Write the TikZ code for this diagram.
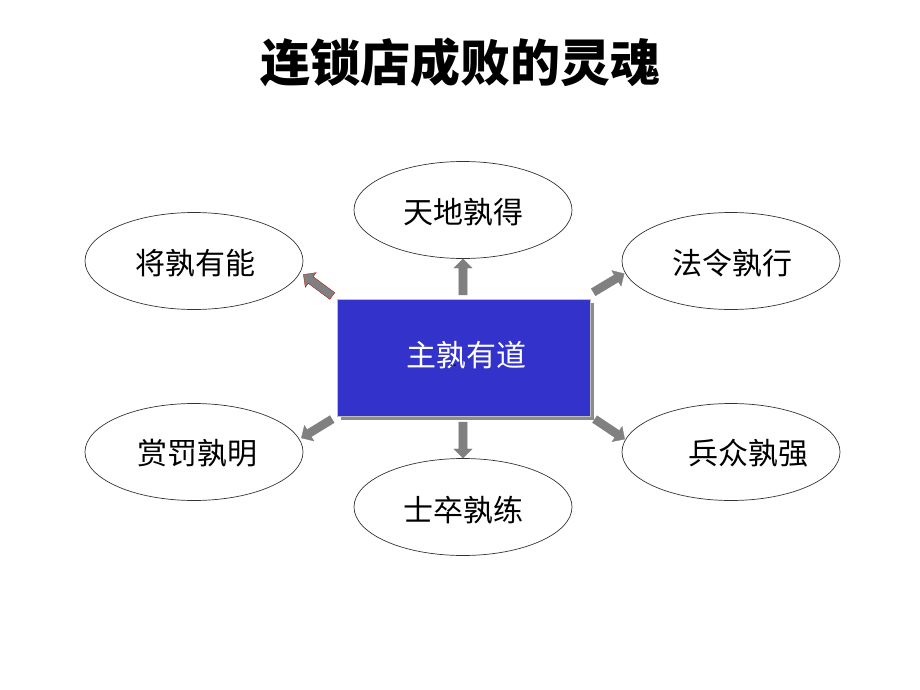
\documentclass[tikz,border=0pt]{standalone}
\usepackage{fontspec}
\newfontfamily\cjk{Noto Sans CJK SC}
\usetikzlibrary{shapes.arrows,shapes.geometric,shadows}
\definecolor{boxblue}{HTML}{3333CC}
\definecolor{arrgray}{HTML}{808080}
\tikzset{
  oval/.style={ellipse, draw=black!80, line width=0.7pt, minimum width=218pt, minimum height=97pt, inner sep=0pt},
  ovaltext/.style={font=\cjk\fontsize{30}{34}\selectfont, text=black, inner sep=0pt},
  blockarrow/.style={single arrow, fill=arrgray, draw=arrgray, line width=0.3pt, inner sep=0pt, inner ysep=4pt,
    single arrow head extend=5pt, minimum height=36pt, text width=0pt}
}
\begin{document}
\begin{tikzpicture}[x=1pt,y=1pt]
\useasboundingbox (0,0) rectangle (920,-690);
% title
\node (title) at (460,-62) {\cjk\bfseries\fontsize{50}{56}\selectfont 连锁店成败的灵魂};
% ellipses
\node[oval] (e1) at (194,-261) {};
\node[oval] (e2) at (463,-210) {};
\node[oval] (e3) at (731,-261) {};
\node[oval] (e4) at (194,-452) {};
\node[oval] (e5) at (463,-507) {};
\node[oval] (e6) at (731,-452) {};
\node[ovaltext] (t1) at (195,-263) {将孰有能};
\node[ovaltext] (t2) at (463,-212) {天地孰得};
\node[ovaltext] (t3) at (732,-263) {法令孰行};
\node[ovaltext] (t4) at (197,-453) {赏罚孰明};
\node[ovaltext] (t5) at (463,-510) {士卒孰练};
\node[ovaltext] (t6) at (748,-453) {兵众孰强};
% central box
\node[draw=black!25, line width=0.5pt, fill=boxblue, minimum width=253pt, minimum height=117pt, inner sep=0pt,
  drop shadow={shadow xshift=4pt, shadow yshift=-4pt, fill=black!45, opacity=1}] (c) at (463.5,-357.5) {};
\node[font=\cjk\fontsize{30}{34}\selectfont, text=white, inner sep=0pt] (ct) at (466,-355) {主孰有道};
\node[font=\bfseries\fontsize{12}{12}\selectfont, text=black, inner sep=0pt] (dots) at (453,-366) {..};
% arrows
\node[blockarrow, rotate=90] (a2) at (463,-279) {};
\node[blockarrow, rotate=270] (a5) at (463,-438) {};
\node[blockarrow, rotate=143.4, draw=red!70!black] (a1) at (319.5,-286.5) {};
\node[blockarrow, rotate=31] (a3) at (607,-284) {};
\node[blockarrow, rotate=211.5] (a4) at (318.5,-427.5) {};
\node[blockarrow, rotate=-33.7] (a6) at (608,-428) {};
\end{tikzpicture}
\end{document}
